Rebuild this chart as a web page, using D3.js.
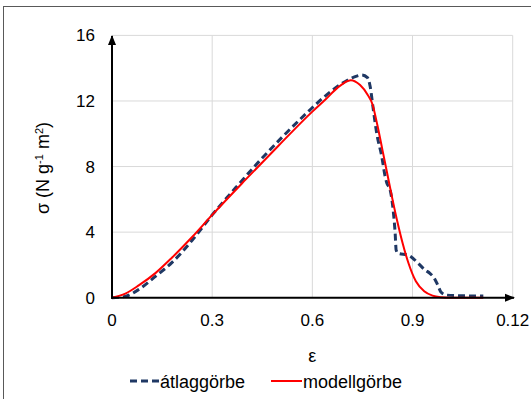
<!DOCTYPE html>
<html>
<head>
  <meta charset="utf-8">
  <title>sigma-epsilon</title>
  <style>
    body{ margin:0; background:#fff; }
    text{ font-family: "Liberation Sans", Arial, sans-serif; fill:#000; }
  </style>
  <script src="https://d3js.org/d3.v7.min.js"></script>
</head>
<body>
  <script>
    // x tick values and the labels as printed on the original chart
    var xTicks = [0, 0.3, 0.6, 0.9, 1.2];
    var xTickLabels = ["0", "0.3", "0.6", "0.9", "0.12"];
    var yTicks = [0, 4, 8, 12, 16];

    // átlaggörbe (average curve)
    var atlagX = [0, 0.02, 0.04, 0.08, 0.13, 0.18, 0.24, 0.3, 0.37, 0.44, 0.51, 0.59, 0.63, 0.68, 0.723, 0.748, 0.765, 0.773, 0.783, 0.793, 0.808, 0.818, 0.823, 0.833, 0.842, 0.848, 0.851, 0.857, 0.887, 0.917, 0.937, 0.952, 0.965, 0.975, 0.985, 1.002, 1.042, 1.112];
    var atlagY = [0, 0.02, 0.08, 0.5, 1.3, 2.15, 3.5, 5.05, 6.7, 8.3, 9.8, 11.4, 12.15, 12.95, 13.44, 13.58, 13.42, 12.9, 11.4, 10.0, 8.6, 7.4, 7.0, 6.57, 5.35, 3.93, 2.9, 2.7, 2.6, 2.1, 1.7, 1.49, 1.2, 0.8, 0.35, 0.16, 0.12, 0.1];

    // modellgörbe (model curve)
    var modellX = [0, 0.04, 0.08, 0.13, 0.18, 0.24, 0.3, 0.4, 0.5, 0.6, 0.64, 0.675, 0.715, 0.743, 0.765, 0.78, 0.795, 0.81, 0.825, 0.84, 0.855, 0.87, 0.888, 0.91, 0.935, 0.96, 0.985, 1.01, 1.112];
    var modellY = [0, 0.25, 0.75, 1.5, 2.45, 3.7, 5.05, 7.2, 9.3, 11.35, 12.1, 12.8, 13.27, 12.97, 12.4, 11.8, 10.5, 9.0, 7.5, 6.0, 4.6, 3.35, 2.1, 1.0, 0.4, 0.13, 0.03, 0, 0];

    var width = 531, height = 399;
    var svg = d3.select('body').append('svg')
      .attr('width', width)
      .attr('height', height);

    // outer frame
    svg.append('rect')
      .attr('x', 3.5).attr('y', 6.5)
      .attr('width', 560).attr('height', 420)
      .attr('fill', 'none')
      .attr('stroke', '#595959')
      .attr('stroke-width', 1);

    var x = d3.scaleLinear().domain([0, 1.2]).range([112, 512.7]);
    var y = d3.scaleLinear().domain([0, 16]).range([297.7, 35.4]);

    // grid
    var grid = svg.append('g').attr('stroke', '#d9d9d9').attr('stroke-width', 1);
    grid.selectAll('.gx').data(xTicks.slice(1)).enter().append('line')
      .attr('x1', d => x(d)).attr('x2', d => x(d))
      .attr('y1', y(0)).attr('y2', y(16));
    grid.selectAll('.gy').data(yTicks.slice(1)).enter().append('line')
      .attr('x1', x(0)).attr('x2', x(1.2))
      .attr('y1', d => y(d)).attr('y2', d => y(d));

    // tick labels
    svg.append('g').selectAll('text').data(xTicks).enter().append('text')
      .attr('x', d => x(d)).attr('y', 326)
      .attr('text-anchor', 'middle')
      .style('font-size', '17px')
      .text((d, i) => xTickLabels[i]);
    svg.append('g').selectAll('text').data(yTicks).enter().append('text')
      .attr('x', 95).attr('y', d => y(d) + 6)
      .attr('text-anchor', 'end')
      .style('font-size', '17px')
      .text(d => d);

    // curves
    var line = d3.line().x(d => x(d[0])).y(d => y(d[1])).curve(d3.curveMonotoneX);
    var modell = modellX.map((v, i) => [v, modellY[i]]);
    var atlag = atlagX.map((v, i) => [v, atlagY[i]]);

    svg.append('path').datum(atlag)
      .attr('d', line)
      .attr('fill', 'none')
      .attr('stroke', '#1f3864')
      .attr('stroke-width', 3)
      .attr('stroke-dasharray', '7,4');

    svg.append('path').datum(modell)
      .attr('d', line)
      .attr('fill', 'none')
      .attr('stroke', '#ff0000')
      .attr('stroke-width', 2);

    // axes with arrowheads
    svg.append('defs').append('marker')
      .attr('id', 'arr')
      .attr('viewBox', '0 0 10 10')
      .attr('refX', 9).attr('refY', 5)
      .attr('markerWidth', 5).attr('markerHeight', 5)
      .attr('markerUnits', 'strokeWidth')
      .attr('orient', 'auto')
      .append('path').attr('d', 'M0,1 L10,5 L0,9 Z').attr('fill', '#000');

    svg.append('line')
      .attr('x1', x(0)).attr('x2', x(0))
      .attr('y1', y(0) + 1).attr('y2', 36)
      .attr('stroke', '#000').attr('stroke-width', 2)
      .attr('marker-end', 'url(#arr)');
    svg.append('line')
      .attr('x1', x(0) - 1).attr('x2', 514)
      .attr('y1', y(0)).attr('y2', y(0))
      .attr('stroke', '#000').attr('stroke-width', 2)
      .attr('marker-end', 'url(#arr)');

    // axis titles
    svg.append('text')
      .attr('x', x(0.6)).attr('y', 362)
      .attr('text-anchor', 'middle')
      .style('font-size', '18px')
      .text('ε');

    var yl = svg.append('text')
      .attr('transform', 'translate(49,168) rotate(-90)')
      .attr('text-anchor', 'middle')
      .style('font-size', '18px');
    yl.append('tspan').text('σ (N g');
    yl.append('tspan').attr('baseline-shift', 'super').style('font-size', '11px').text('-1');
    yl.append('tspan').text(' m');
    yl.append('tspan').attr('baseline-shift', 'super').style('font-size', '11px').text('2');
    yl.append('tspan').text(')');

    // legend
    var lg = svg.append('g');
    lg.append('line')
      .attr('x1', 130).attr('x2', 159).attr('y1', 381).attr('y2', 381)
      .attr('stroke', '#1f3864').attr('stroke-width', 3)
      .attr('stroke-dasharray', '7,4');
    lg.append('text').attr('x', 160).attr('y', 387.5)
      .style('font-size', '18px').text('átlaggörbe');
    lg.append('line')
      .attr('x1', 271).attr('x2', 302).attr('y1', 381).attr('y2', 381)
      .attr('stroke', '#ff0000').attr('stroke-width', 2);
    lg.append('text').attr('x', 303).attr('y', 387.5)
      .style('font-size', '18px').text('modellgörbe');
  </script>
</body>
</html>
